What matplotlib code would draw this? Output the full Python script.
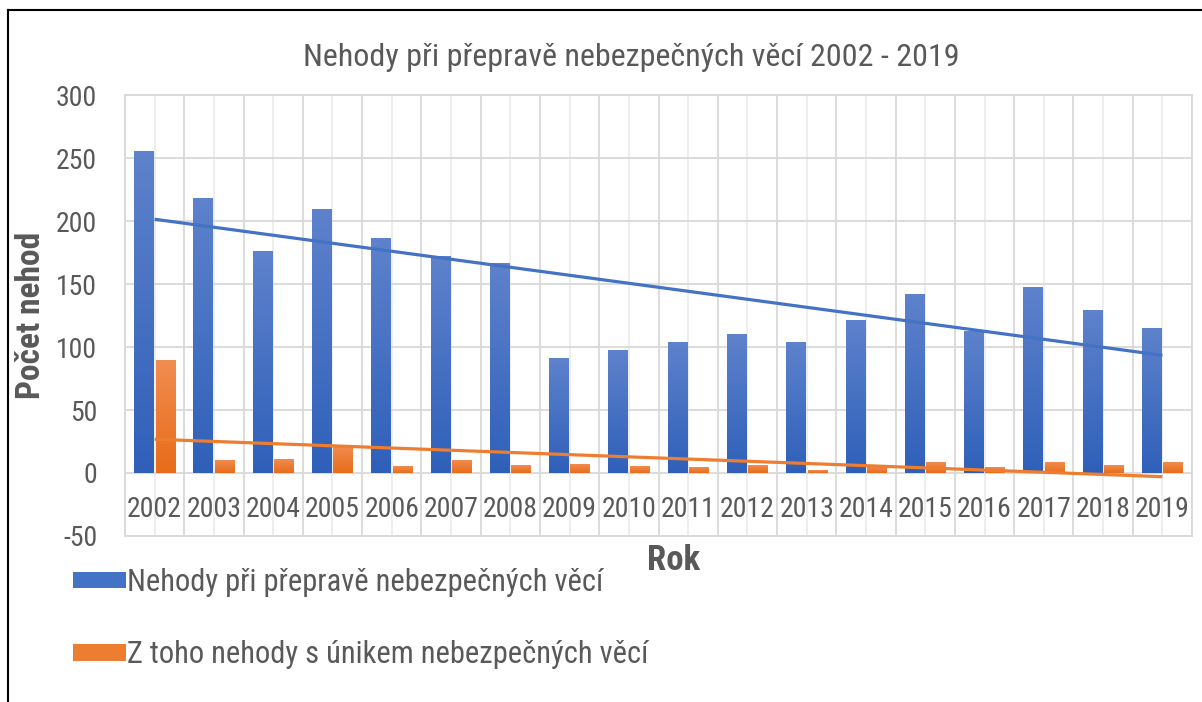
import numpy as np
import matplotlib
matplotlib.use('Agg')
import matplotlib.pyplot as plt
from matplotlib import font_manager
from matplotlib.colors import LinearSegmentedColormap
from matplotlib.lines import Line2D
from matplotlib.patches import Patch

# data
years = ['2002', '2003', '2004', '2005', '2006', '2007', '2008', '2009', '2010',
         '2011', '2012', '2013', '2014', '2015', '2016', '2017', '2018', '2019']
accidents = [255, 218, 176, 209, 186, 172, 166, 91, 97,
             104, 110, 104, 121, 142, 112, 147, 129, 115]
leaks = [89, 10, 11, 21, 5, 10, 6, 7, 5,
         4, 6, 2, 5, 8, 4, 8, 6, 8]
series_names = ['Nehody při přepravě nebezpečných věcí',
                'Z toho nehody s únikem nebezpečných věcí']
y_ticks = [-50, 0, 50, 100, 150, 200, 250, 300]

# pick a narrow-ish font close to Calibri
installed = {f.name for f in font_manager.fontManager.ttflist}
font = 'DejaVu Sans'
for name in ['Roboto Condensed', 'Liberation Sans Narrow', 'Open Sans Condensed', 'Lato']:
    if name in installed:
        font = name
        break
plt.rcParams['font.family'] = [font, 'DejaVu Sans']

txt = '#595959'
blue = '#4472C4'
orange = '#ED7D31'
blue_cm = LinearSegmentedColormap.from_list('b', ['#2F60B9', '#5E82CC'])
orange_cm = LinearSegmentedColormap.from_list('o', ['#E86C1A', '#F18C50'])

fig = plt.figure(figsize=(12.02, 7.02), dpi=100)
ax = fig.add_axes([0.104, 0.2365, 0.8877, 0.628])

x = np.arange(len(years))
w = 0.33
b1 = ax.bar(x - 0.18, accidents, w, color=blue, zorder=3)
b2 = ax.bar(x + 0.18, leaks, w, color=orange, zorder=3)

# gradient fill on each bar
grad = np.linspace(0, 1, 100).reshape(-1, 1)
for bars, cm in ((b1, blue_cm), (b2, orange_cm)):
    for r in bars:
        x0, y0 = r.get_x(), r.get_y()
        ax.imshow(grad, extent=[x0, x0 + r.get_width(), y0, y0 + r.get_height()],
                  origin='lower', aspect='auto', cmap=cm, zorder=3.5)

# linear trendlines
for vals, c in ((accidents, blue), (leaks, orange)):
    k, q = np.polyfit(x, vals, 1)
    ax.plot(x, k * x + q, color=c, lw=2.3, zorder=5, solid_capstyle='butt')

ax.set_xlim(-0.5, len(years) - 0.5)
ax.set_ylim(-50, 300)
ax.set_yticks(y_ticks)
ax.set_yticklabels([str(t) for t in y_ticks], color=txt, fontsize=20)
ax.tick_params(axis='y', length=0, pad=20)
ax.set_xticks(np.arange(len(years) + 1) - 0.5)
ax.set_xticks(x, minor=True)
ax.tick_params(axis='x', which='both', length=0, labelbottom=False)
ax.grid(True, which='major', color='#d9d9d9', lw=1.3, zorder=0)
ax.grid(True, which='minor', axis='x', color='#ededed', lw=1.3, zorder=0)
for s in ax.spines.values():
    s.set_color('#d9d9d9')
    s.set_linewidth(1.3)

for i, yr in enumerate(years):
    ax.text(i, -29, yr, ha='center', va='center', color=txt, fontsize=20)

ax.set_ylabel('Počet nehod', fontsize=24, fontweight='bold', color=txt)
ax.yaxis.set_label_coords(-0.073, 0.5)
fig.text(0.525, 0.918, 'Nehody při přepravě nebezpečných věcí 2002 - 2019',
         ha='center', va='center', fontsize=23, color=txt)
fig.text(0.56, 0.201, 'Rok', ha='center', va='center', fontsize=25,
         fontweight='bold', color=txt)

handles = [Patch(facecolor=blue), Patch(facecolor=orange)]
fig.legend(handles, series_names, loc='upper left', bbox_to_anchor=(0.0607, 0.191),
           frameon=False, fontsize=22, borderpad=0, borderaxespad=0,
           handlelength=1.73, handleheight=0.46, handletextpad=0.03,
           labelspacing=1.42, labelcolor=txt)

# outer frame (top and left)
fig.add_artist(Line2D([8 / 1202, 1], [1 - 10 / 702, 1 - 10 / 702],
                      transform=fig.transFigure, color='black', lw=1.5))
fig.add_artist(Line2D([8 / 1202, 8 / 1202], [0, 1 - 10 / 702],
                      transform=fig.transFigure, color='black', lw=1.5))

fig.savefig('out.png', dpi=100)
